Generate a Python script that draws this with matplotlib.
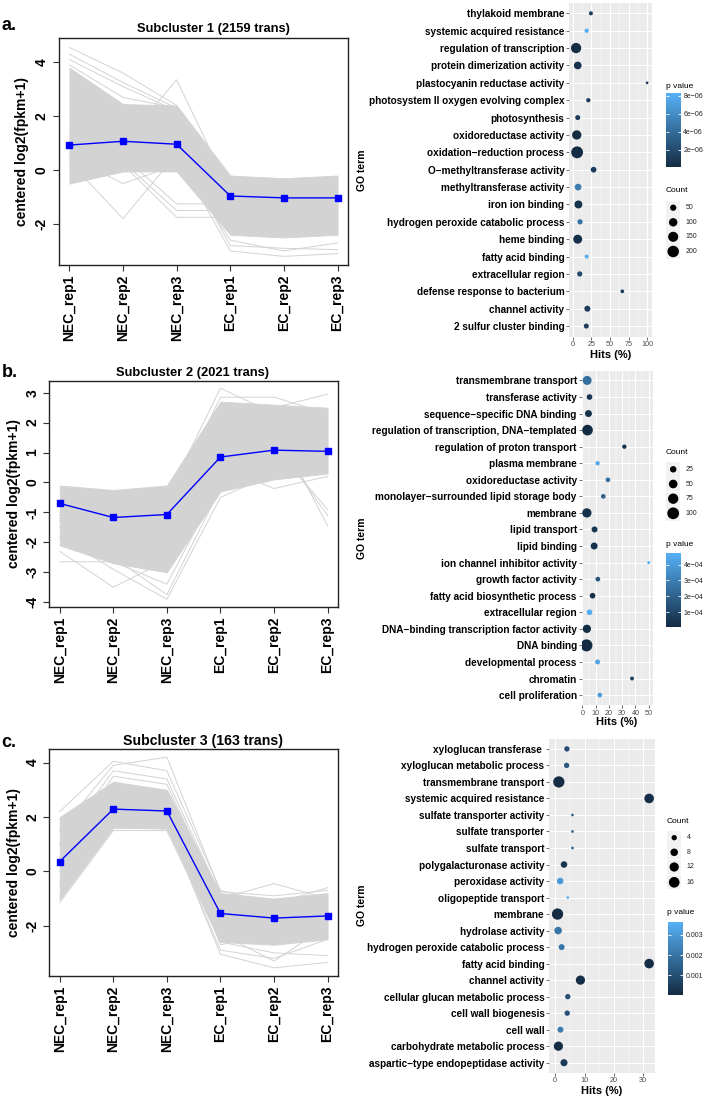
import numpy as np
import matplotlib
matplotlib.use('Agg')
import matplotlib.pyplot as plt
from matplotlib.colors import LinearSegmentedColormap, Normalize
from matplotlib.cm import ScalarMappable
from matplotlib.patches import Rectangle

plt.rcParams['font.family'] = ['Liberation Sans', 'DejaVu Sans']

# ---------------- data ----------------
samples = ['NEC_rep1', 'NEC_rep2', 'NEC_rep3', 'EC_rep1', 'EC_rep2', 'EC_rep3']

# Subcluster 1
mean_a = [0.93, 1.07, 0.96, -0.96, -1.03, -1.03]
upper_a = [3.8, 2.45, 2.4, -0.2, -0.3, -0.2]
lower_a = [-0.5, -0.05, -0.05, -2.4, -2.5, -2.4]
traces_a = [
    [4.55, 3.6, 2.4, -0.4, -0.5, -0.4],
    [4.3, 3.25, 2.3, -0.5, -0.6, -0.5],
    [4.1, 3.1, 2.2, -0.6, -0.7, -0.6],
    [3.9, 2.7, 2.3, -0.5, -0.6, -0.5],
    [0.3, -1.8, 0.6, -1.0, -1.2, -1.1],
    [0.5, -0.5, 0.2, -1.5, -1.4, -1.5],
    [1.5, 1.0, 3.35, -0.8, -1.0, -0.9],
    [0.8, 0.5, -1.25, -1.25, -1.6, -1.4],
    [0.6, 0.3, -1.5, -1.5, -2.0, -1.8],
    [0.4, 0.2, -1.75, -1.75, -2.2, -2.0],
    [1.0, 0.8, 0.6, -3.0, -3.2, -3.1],
    [1.2, 1.0, 0.8, -2.8, -2.9, -2.95],
    [0.9, 0.6, 0.5, -2.6, -3.0, -2.7],
]

# Subcluster 2
mean_b = [-0.70, -1.17, -1.07, 0.85, 1.08, 1.04]
upper_b = [-0.1, -0.25, -0.1, 2.7, 2.6, 2.5]
lower_b = [-2.1, -2.7, -3.0, -0.3, 0.1, 0.3]
traces_b = [
    [-2.65, -2.65, -3.4, 0.0, 0.5, 0.6],
    [-2.3, -3.5, -2.6, 0.2, 0.4, 0.5],
    [-1.8, -2.9, -3.9, -0.5, 0.3, 0.4],
    [-1.5, -2.5, -3.75, -0.2, 0.2, 0.3],
    [-1.0, -1.5, -0.5, 3.15, 2.3, 2.0],
    [-0.8, -1.2, -0.9, 2.85, 2.85, 2.3],
    [-0.7, -1.0, -0.6, 2.6, 2.5, 2.95],
    [-1.2, -1.4, -1.0, 1.5, 2.0, -1.45],
    [-1.0, -1.5, -1.2, 1.2, 1.4, -1.1],
    [-1.1, -1.6, -1.3, 1.0, 1.2, -0.9],
    [-1.3, -1.7, -1.4, 0.5, -0.2, 0.2],
]

# Subcluster 3
mean_c = [0.36, 2.29, 2.22, -1.55, -1.72, -1.64]
upper_c = [2.0, 3.3, 3.0, -0.8, -1.0, -0.8]
lower_c = [-1.05, 1.6, 1.6, -2.6, -2.7, -2.5]
traces_c = [
    [2.2, 4.05, 3.7, -0.7, -1.2, -0.6],
    [1.5, 3.9, 4.2, -0.75, -0.9, -0.7],
    [1.0, 3.7, 3.4, -0.9, -1.3, -0.9],
    [0.5, 3.5, 3.2, -1.0, -0.45, -1.0],
    [-1.15, 1.5, 1.5, -2.6, -3.0, -3.1],
    [-0.5, 1.7, 1.8, -3.05, -3.55, -3.35],
    [0.0, 1.8, 1.7, -2.9, -3.2, -2.5],
    [1.9, 2.3, 2.4, -2.7, -2.3, -2.2],
    [-0.9, 1.6, 1.55, -2.3, -3.3, -2.0],
]

# GO dot plot a (top to bottom)
terms_a = ['thylakoid membrane', 'systemic acquired resistance', 'regulation of transcription',
           'protein dimerization activity', 'plastocyanin reductase activity',
           'photosystem II oxygen evolving complex', 'photosynthesis', 'oxidoreductase activity',
           'oxidation\u2212reduction process', 'O\u2212methyltransferase activity',
           'methyltransferase activity', 'iron ion binding', 'hydrogen peroxide catabolic process',
           'heme binding', 'fatty acid binding', 'extracellular region',
           'defense response to bacterium', 'channel activity', '2 sulfur cluster binding']
hits_a = [24.3, 18.6, 4.4, 6.6, 99.6, 20.8, 6.6, 5.3, 5.8, 27.9, 7.1, 7.5, 9.7, 6.6, 18.6, 9.3, 66.4, 19.5, 18.1]
count_a = [16, 19, 158, 82, 5, 19, 29, 126, 215, 40, 59, 89, 33, 117, 16, 33, 13, 45, 29]
pval_a = [1.0e-6, 8.2e-6, 1e-7, 5e-7, 1.0e-6, 1.0e-6, 1.0e-6, 1e-7, 1e-8, 1.0e-6, 5.0e-6, 5e-7,
          4.5e-6, 3e-7, 8.0e-6, 2.0e-6, 1.0e-6, 1.0e-6, 1.0e-6]

# GO dot plot b
terms_b = ['transmembrane transport', 'transferase activity', 'sequence\u2212specific DNA binding',
           'regulation of transcription, DNA\u2212templated', 'regulation of proton transport',
           'plasma membrane', 'oxidoreductase activity', 'monolayer\u2212surrounded lipid storage body',
           'membrane', 'lipid transport', 'lipid binding', 'ion channel inhibitor activity',
           'growth factor activity', 'fatty acid biosynthetic process', 'extracellular region',
           'DNA\u2212binding transcription factor activity', 'DNA binding', 'developmental process',
           'chromatin', 'cell proliferation']
hits_b = [3.5, 5.3, 4.5, 3.8, 31.6, 11.4, 19.2, 15.7, 3.3, 9.1, 8.8, 50.0, 11.6, 7.6, 5.3, 3.3, 3.0, 11.4, 37.4, 13.1]
count_b = [55, 18, 30, 81, 9, 9, 11, 11, 59, 21, 30, 3, 11, 18, 18, 46, 105, 13, 7, 11]
pval_b = [2.5e-4, 5e-5, 3e-5, 1e-5, 3e-5, 4.5e-4, 2.5e-4, 2.0e-4, 3e-5, 5e-5, 3e-5, 4.7e-4,
          1.5e-4, 2e-5, 4.6e-4, 2e-5, 1e-5, 4.3e-4, 1.0e-4, 4.0e-4]

# GO dot plot c
terms_c = ['xyloglucan transferase ', 'xyloglucan metabolic process', 'transmembrane transport',
           'systemic acquired resistance', 'sulfate transporter activity', 'sulfate transporter',
           'sulfate transport', 'polygalacturonase activity', 'peroxidase activity',
           'oligopeptide transport', 'membrane', 'hydrolase activity',
           'hydrogen peroxide catabolic process', 'fatty acid binding', 'channel activity',
           'cellular glucan metabolic process', 'cell wall biogenesis', 'cell wall',
           'carbohydrate metabolic process', 'aspartic\u2212type endopeptidase activity']
hits_c = [4.0, 3.9, 1.25, 32.0, 5.9, 5.9, 5.9, 3.0, 1.7, 4.3, 0.8, 1.0, 2.2, 32.0, 8.6, 4.3, 4.1, 1.8, 1.1, 3.0]
count_c = [4, 4, 18, 13, 1, 1, 1, 6, 6, 1, 18, 8, 5, 13, 12, 4, 4, 5, 12, 7]
pval_c = [1.0e-3, 1.2e-3, 5e-5, 1e-4, 1.5e-3, 1.5e-3, 1.5e-3, 3e-4, 3.0e-3, 3.6e-3, 2e-5, 2.0e-3,
          2.0e-3, 1e-4, 1e-4, 1.0e-3, 1.0e-3, 2.2e-3, 5e-5, 4e-4]

count_breaks_a = [50, 100, 150, 200]
count_breaks_b = [25, 50, 75, 100]
count_breaks_c = [4, 8, 12, 16]
p_breaks_a = [2e-6, 4e-6, 6e-6, 8e-6]
p_labels_a = ['2e\u221206', '4e\u221206', '6e\u221206', '8e\u221206']
p_breaks_b = [1e-4, 2e-4, 3e-4, 4e-4]
p_labels_b = ['1e\u221204', '2e\u221204', '3e\u221204', '4e\u221204']
p_breaks_c = [0.001, 0.002, 0.003]
p_labels_c = ['0.001', '0.002', '0.003']

# ---------------- figure ----------------
W, H = 709, 1101
fig = plt.figure(figsize=(W / 100, H / 100), dpi=100)


def rect(x0, y0, x1, y1):
    return [x0 / W, 1 - y1 / H, (x1 - x0) / W, (y1 - y0) / H]


ov = fig.add_axes([0, 0, 1, 1], zorder=10)
ov.set_xlim(0, W)
ov.set_ylim(H, 0)
ov.axis('off')

GREY = '#D3D3D3'
cmap = LinearSegmentedColormap.from_list('gg', ['#132B43', '#56B1F7'])


def line_panel(box, ylim, yticks, upper, lower, traces, mean):
    ax = fig.add_axes(rect(*box))
    x = np.arange(len(samples))
    ax.fill_between(x, lower, upper, color=GREY, lw=0.6, edgecolor=GREY)
    for tr in traces:
        ax.plot(x, tr, color=GREY, lw=0.7)
    ax.plot(x, mean, color='#0000FF', lw=1.0, marker='s', ms=3.8)
    ax.set_xlim(-0.2, 5.2)
    ax.set_ylim(*ylim)
    ax.set_xticks(x)
    ax.set_xticklabels(samples, rotation=90, fontsize=10, fontweight='bold')
    ax.set_yticks(yticks)
    ax.set_yticklabels([str(v) for v in yticks], rotation=90, va='center',
                       fontsize=10, fontweight='bold')
    ax.tick_params(length=4, width=0.8, color='#333333', pad=3)
    for sp in ax.spines.values():
        sp.set_linewidth(1.0)
        sp.set_color('#222222')
    return ax


def size_of(counts, a, b):
    return ((a + b * np.sqrt(np.asarray(counts, float))) * 0.72) ** 2


def dot_panel(box, terms, hits, counts, pvals, xlim, xticks, minor, sa, sb, prange):
    ax = fig.add_axes(rect(*box))
    ax.set_facecolor('#EBEBEB')
    n = len(terms)
    y = np.arange(n)[::-1]
    norm = Normalize(*prange)
    ax.scatter(hits, y, s=size_of(counts, sa, sb), c=pvals, cmap=cmap, norm=norm,
               edgecolors='none', zorder=3)
    ax.set_ylim(-0.6, n - 0.4)
    ax.set_xlim(*xlim)
    ax.set_yticks(y)
    ax.set_yticklabels(terms, fontsize=7.2, fontweight='bold', color='black')
    ax.set_xticks(xticks)
    ax.set_xticklabels([str(t) for t in xticks], fontsize=5.2, color='#4D4D4D')
    ax.set_xticks(minor, minor=True)
    ax.grid(True, which='major', color='white', lw=0.75)
    ax.grid(True, which='minor', axis='x', color='white', lw=0.35)
    ax.set_axisbelow(True)
    for sp in ax.spines.values():
        sp.set_visible(False)
    ax.tick_params(which='major', length=2, width=0.5, color='#333333', pad=1.5)
    ax.tick_params(which='minor', length=0)
    return ax, norm


def colorbar(box, norm, ticks, labels):
    cax = fig.add_axes(rect(*box))
    cb = fig.colorbar(ScalarMappable(norm=norm, cmap=cmap), cax=cax)
    cb.outline.set_visible(False)
    cb.set_ticks(ticks)
    cb.set_ticklabels(labels)
    cax.tick_params(labelsize=5, length=2.5, width=0.6, color='white', direction='in',
                    left=True, right=True, labelleft=False, labelright=True, pad=2,
                    labelcolor='#222222')


def count_legend(x, ytitle, ykeys, breaks, sa, sb):
    ov.text(x, ytitle, 'Count', fontsize=6, ha='left', va='center')
    k = 14.4
    for yk, br in zip(ykeys, breaks):
        ov.add_patch(Rectangle((x, yk - k / 2), k, k, facecolor='#F2F2F2', edgecolor='none'))
    ov.scatter([x + k / 2] * len(ykeys), ykeys, s=size_of(breaks, sa, sb), color='black',
               edgecolors='none')
    for yk, br in zip(ykeys, breaks):
        ov.text(x + k + 5, yk, str(br), fontsize=5, ha='left', va='center', color='#222222')


# ---- panel a ----
line_panel((58.7, 38.3, 348.3, 265), (-3.52, 4.89), [-2, 0, 2, 4], upper_a, lower_a, traces_a, mean_a)
ov.text(213, 29, 'Subcluster 1 (2159 trans)', fontsize=9.3, fontweight='bold', ha='center', va='center')
ov.text(1.5, 30, 'a.', fontsize=13, fontweight='bold', ha='left', va='baseline')
ov.text(22, 151.5, 'centered log2(fpkm+1)', fontsize=10, fontweight='bold', rotation=90, ha='center', va='center')

axa, norm_a = dot_panel((569.3, 2.9, 651.7, 336.5), terms_a, hits_a, count_a, pval_a,
                        (-4.7, 105.8), [0, 25, 50, 75, 100], [12.5, 37.5, 62.5, 87.5],
                        1.06, 0.735, (1e-8, 8.3e-6))
ov.text(610.5, 355, 'Hits (%)', fontsize=8, fontweight='bold', ha='center', va='center')
ov.text(362, 170, 'GO term', fontsize=7.5, fontweight='bold', rotation=90, ha='center', va='center')
ov.text(666, 86, 'p value', fontsize=6, ha='left', va='center')
colorbar((666, 93.3, 680.5, 167.3), norm_a, p_breaks_a, p_labels_a)
count_legend(666, 191, [207.7, 222.3, 236.8, 251.5], count_breaks_a, 1.06, 0.735)

# ---- panel b ----
line_panel((49, 380.7, 338.3, 606.7), (-4.15, 3.4), [-4, -3, -2, -1, 0, 1, 2, 3], upper_b, lower_b, traces_b, mean_b)
ov.text(192, 373, 'Subcluster 2 (2021 trans)', fontsize=9.3, fontweight='bold', ha='center', va='center')
ov.text(1.5, 377, 'b.', fontsize=13, fontweight='bold', ha='left', va='baseline')
ov.text(14, 493.7, 'centered log2(fpkm+1)', fontsize=10, fontweight='bold', rotation=90, ha='center', va='center')

axb, norm_b = dot_panel((581.7, 370.5, 652.7, 705), terms_b, hits_b, count_b, pval_b,
                        (-0.6, 53.0), [0, 10, 20, 30, 40, 50], [5, 15, 25, 35, 45],
                        1.17, 1.056, (8e-6, 4.75e-4))
ov.text(617, 722, 'Hits (%)', fontsize=8, fontweight='bold', ha='center', va='center')
ov.text(362, 538, 'GO term', fontsize=7.5, fontweight='bold', rotation=90, ha='center', va='center')
count_legend(666, 453, [469.3, 484.0, 498.7, 513.3], count_breaks_b, 1.17, 1.056)
ov.text(666, 544, 'p value', fontsize=6, ha='left', va='center')
colorbar((666, 552.7, 680.7, 626.7), norm_b, p_breaks_b, p_labels_b)

# ---- panel c ----
line_panel((49, 749.3, 338.3, 976), (-3.85, 4.49), [-2, 0, 2, 4], upper_c, lower_c, traces_c, mean_c)
ov.text(203, 741, 'Subcluster 3 (163 trans)', fontsize=10.2, fontweight='bold', ha='center', va='center')
ov.text(1.5, 747, 'c.', fontsize=13, fontweight='bold', ha='left', va='baseline')
ov.text(14, 862.6, 'centered log2(fpkm+1)', fontsize=10, fontweight='bold', rotation=90, ha='center', va='center')

axc, norm_c = dot_panel((549.3, 739, 654.7, 1072.6), terms_c, hits_c, count_c, pval_c,
                        (-2.0, 33.9), [0, 10, 20, 30], [5, 15, 25],
                        0.05, 2.65, (2e-5, 3.65e-3))
ov.text(602, 1091, 'Hits (%)', fontsize=8, fontweight='bold', ha='center', va='center')
ov.text(362, 905, 'GO term', fontsize=7.5, fontweight='bold', rotation=90, ha='center', va='center')
count_legend(667, 821.7, [837.7, 852.3, 867.0, 882.3], count_breaks_c, 0.05, 2.65)
ov.text(667, 913, 'p value', fontsize=6, ha='left', va='center')
colorbar((668.3, 921.7, 683.3, 995), norm_c, p_breaks_c, p_labels_c)

fig.savefig('out.png', dpi=100)
